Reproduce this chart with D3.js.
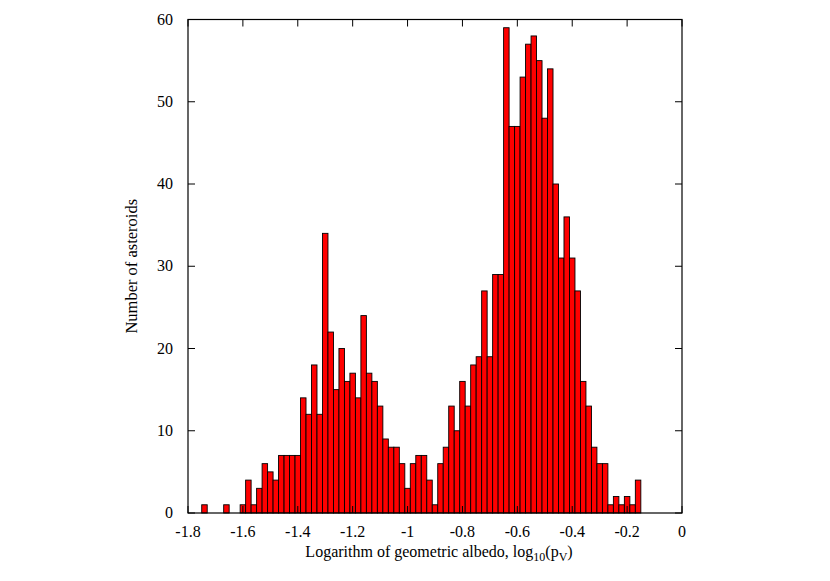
<!DOCTYPE html>
<html>
<head>
<meta charset="utf-8">
<script src="https://cdn.jsdelivr.net/npm/d3@7"></script>
<style>
  body { margin: 0; background: #fff; }
  text { font-family: "Liberation Serif", "DejaVu Serif", serif; fill: #000; }
</style>
</head>
<body>
<div class="graph"></div>
<script>
// bin centres (log10 albedo), bin width 0.02
const binWidth = 0.02;
const binCenters = d3.range(-1.74, -0.15, 0.02).map(v => +v.toFixed(2));
const counts = [
  1, 0, 0, 0, 1, 0, 0, 1, 4, 1,
  3, 6, 5, 4, 7, 7, 7, 7, 14, 12,
  18, 12, 34, 22, 15, 20, 16, 17, 14, 24,
  17, 16, 13, 9, 8, 8, 6, 3, 6, 7,
  7, 4, 1, 6, 8, 13, 10, 16, 13, 18,
  19, 27, 19, 29, 29, 59, 47, 47, 53, 57,
  58, 55, 48, 54, 40, 31, 36, 31, 27, 16,
  13, 8, 6, 6, 1, 2, 1, 2, 1, 4
];
const xTicks = [-1.8, -1.6, -1.4, -1.2, -1, -0.8, -0.6, -0.4, -0.2, 0];
const yTicks = [0, 10, 20, 30, 40, 50, 60];

const width = 830;
const height = 581;
const margin = { top: 19.5, right: 148, bottom: 68, left: 188 };

const svg = d3.select('.graph')
  .append('svg')
  .attr('width', width)
  .attr('height', height);

const x = d3.scaleLinear()
  .domain([-1.8, 0])
  .range([margin.left, width - margin.right]);

const y = d3.scaleLinear()
  .domain([0, 60])
  .range([height - margin.bottom, margin.top]);

const bins = binCenters.map((c, i) => ({ c: c, n: counts[i] })).filter(d => d.n > 0);

// bars
svg.append('g')
  .selectAll('rect')
  .data(bins)
  .enter()
  .append('rect')
  .attr('x', d => x(d.c - binWidth / 2))
  .attr('y', d => y(d.n))
  .attr('width', d => x(d.c + binWidth / 2) - x(d.c - binWidth / 2))
  .attr('height', d => y(0) - y(d.n))
  .style('fill', '#ff0000')
  .style('stroke', '#000')
  .style('stroke-width', 0.9);

// ticks, mirrored on all sides
const tickLen = 7;
const ticks = svg.append('g').style('stroke', '#000').style('stroke-width', 1);

ticks.selectAll('.xb')
  .data(xTicks)
  .enter()
  .append('line')
  .attr('x1', d => x(d)).attr('x2', d => x(d))
  .attr('y1', y(0)).attr('y2', y(0) - tickLen);

ticks.selectAll('.xt')
  .data(xTicks)
  .enter()
  .append('line')
  .attr('x1', d => x(d)).attr('x2', d => x(d))
  .attr('y1', y(60)).attr('y2', y(60) + tickLen);

ticks.selectAll('.yl')
  .data(yTicks)
  .enter()
  .append('line')
  .attr('x1', x(-1.8)).attr('x2', x(-1.8) + tickLen)
  .attr('y1', d => y(d)).attr('y2', d => y(d));

ticks.selectAll('.yr')
  .data(yTicks)
  .enter()
  .append('line')
  .attr('x1', x(0)).attr('x2', x(0) - tickLen)
  .attr('y1', d => y(d)).attr('y2', d => y(d));

// frame
svg.append('rect')
  .attr('x', x(-1.8))
  .attr('y', y(60))
  .attr('width', x(0) - x(-1.8))
  .attr('height', y(0) - y(60))
  .style('fill', 'none')
  .style('stroke', '#000')
  .style('stroke-width', 1.2);

// tick labels
svg.selectAll('.xlab')
  .data(xTicks)
  .enter()
  .append('text')
  .attr('x', d => x(d))
  .attr('y', y(0) + 24)
  .attr('text-anchor', 'middle')
  .attr('font-size', '16px')
  .text(d => d);

svg.selectAll('.ylab')
  .data(yTicks)
  .enter()
  .append('text')
  .attr('x', x(-1.8) - 15)
  .attr('y', d => y(d) + 5)
  .attr('text-anchor', 'end')
  .attr('font-size', '16px')
  .text(d => d);

// axis titles
const xt = svg.append('text')
  .attr('x', (x(-1.8) + x(0)) / 2 + 4)
  .attr('y', y(0) + 44)
  .attr('text-anchor', 'middle')
  .attr('font-size', '16px');
xt.append('tspan').text('Logarithm of geometric albedo, log');
xt.append('tspan').attr('font-size', '12px').attr('dy', 4).text('10');
xt.append('tspan').attr('dy', -4).text('(p');
xt.append('tspan').attr('font-size', '12px').attr('dy', 4).text('V');
xt.append('tspan').attr('dy', -4).text(')');

svg.append('text')
  .attr('transform', `translate(137, ${(y(0) + y(60)) / 2}) rotate(-90)`)
  .attr('text-anchor', 'middle')
  .attr('font-size', '16.5px')
  .text('Number of asteroids');
</script>
</body>
</html>
